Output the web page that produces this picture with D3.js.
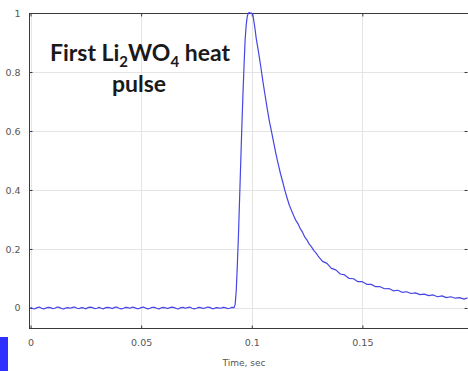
<!DOCTYPE html>
<html>
<head>
<meta charset="utf-8">
<script src="https://cdn.jsdelivr.net/npm/d3@7"></script>
<style>
  body { margin: 0; background: #fff; }
  svg { display: block; }
</style>
</head>
<body>
<div id="chart"></div>
<script>
// pulse samples
var timeSec = [
  0.000, 0.001, 0.002, 0.003, 0.004, 0.005, 0.006, 0.007, 0.008, 0.009,
  0.010, 0.011, 0.012, 0.013, 0.014, 0.015, 0.016, 0.017, 0.018, 0.019,
  0.020, 0.021, 0.022, 0.023, 0.024, 0.025, 0.026, 0.027, 0.028, 0.029,
  0.030, 0.031, 0.032, 0.033, 0.034, 0.035, 0.036, 0.037, 0.038, 0.039,
  0.040, 0.041, 0.042, 0.043, 0.044, 0.045, 0.046, 0.047, 0.048, 0.049,
  0.050, 0.051, 0.052, 0.053, 0.054, 0.055, 0.056, 0.057, 0.058, 0.059,
  0.060, 0.061, 0.062, 0.063, 0.064, 0.065, 0.066, 0.067, 0.068, 0.069,
  0.070, 0.071, 0.072, 0.073, 0.074, 0.075, 0.076, 0.077, 0.078, 0.079,
  0.080, 0.081, 0.082, 0.083, 0.084, 0.085, 0.086, 0.087, 0.088, 0.089,
  0.090, 0.091, 0.092,
  0.0925, 0.093, 0.0935, 0.094, 0.0945, 0.095, 0.0955, 0.096, 0.0965, 0.097,
  0.0975, 0.098, 0.0985, 0.099, 0.0995, 0.100, 0.1005, 0.101, 0.1015, 0.102,
  0.103, 0.104, 0.105, 0.106, 0.107, 0.108, 0.109, 0.110, 0.111, 0.112,
  0.113, 0.114, 0.115, 0.116, 0.117, 0.118, 0.119, 0.120, 0.121, 0.122,
  0.123, 0.124, 0.125, 0.126, 0.127, 0.128, 0.129,
  0.130, 0.132, 0.134, 0.136, 0.138, 0.140, 0.142, 0.144, 0.146, 0.148,
  0.150, 0.152, 0.154, 0.156, 0.158, 0.160, 0.162, 0.164, 0.166, 0.168,
  0.170, 0.172, 0.174, 0.176, 0.178, 0.180, 0.182, 0.184, 0.186, 0.188,
  0.190, 0.192, 0.194, 0.196, 0.1975
];
var signal = [
  0.002, -0.002, -0.003, 0.001, 0.003, -0.001, -0.003, 0.000, 0.002, 0.001,
  -0.002, -0.001, 0.003, 0.002, -0.002, -0.003, 0.000, 0.001, -0.001, 0.002,
  0.003, -0.001, -0.002, 0.001, 0.000, -0.003, 0.001, 0.003, 0.001, -0.002,
  -0.001, 0.002, -0.001, -0.003, 0.001, 0.002, 0.000, -0.002, 0.002, 0.003,
  -0.001, -0.003, -0.001, 0.002, 0.001, -0.001, 0.003, 0.001, -0.002, -0.002,
  0.001, 0.003, 0.000, -0.003, -0.001, 0.002, 0.002, -0.001, -0.003, 0.000,
  0.002, 0.000, -0.002, 0.001, 0.003, 0.001, -0.002, -0.003, 0.001, 0.002,
  -0.001, 0.001, 0.003, -0.001, -0.003, -0.001, 0.002, 0.001, -0.002, 0.000,
  0.003, 0.002, -0.002, -0.002, 0.001, 0.000, -0.001, 0.002, 0.001, -0.002,
  -0.001, 0.002, 0.001,
  0.012, 0.060, 0.150, 0.250, 0.370, 0.490, 0.610, 0.720, 0.820, 0.910,
  0.960, 0.990, 1.000, 1.002, 0.998, 1.000, 0.995, 0.970, 0.945, 0.915,
  0.870, 0.822, 0.770, 0.722, 0.675, 0.632, 0.595, 0.557, 0.520, 0.487,
  0.455, 0.427, 0.398, 0.372, 0.348, 0.330, 0.312, 0.296, 0.284, 0.268,
  0.256, 0.240, 0.230, 0.216, 0.207, 0.195, 0.187,
  0.176, 0.158, 0.151, 0.134, 0.129, 0.115, 0.112, 0.100, 0.099, 0.089,
  0.089, 0.080, 0.080, 0.072, 0.072, 0.065, 0.066, 0.058, 0.060, 0.053,
  0.055, 0.049, 0.051, 0.045, 0.047, 0.042, 0.044, 0.038, 0.041, 0.035,
  0.038, 0.033, 0.035, 0.030, 0.034
];
var xTicks = [0, 0.05, 0.1, 0.15];
var xTickLabels = ["0", "0.05", "0.1", "0.15"];
var yTicks = [0, 0.2, 0.4, 0.6, 0.8, 1];
var yTickLabels = ["0", "0.2", "0.4", "0.6", "0.8", "1"];
var xLabel = "Time, sec";

var width = 468, height = 371;
var plotLeft = 29, plotRight = 467, plotTop = 13, plotBottom = 328;

var svg = d3.select("#chart").append("svg")
    .attr("width", width)
    .attr("height", height);

var x = d3.scaleLinear().domain([-0.0007, 0.1973]).range([plotLeft, plotRight]);
var y = d3.scaleLinear().domain([-0.068, 1]).range([plotBottom, plotTop]);

// grid lines
svg.append("g").selectAll("line").data(xTicks).enter().append("line")
    .attr("x1", function (d) { return Math.round(x(d)) + 0.5 })
    .attr("x2", function (d) { return Math.round(x(d)) + 0.5 })
    .attr("y1", plotTop).attr("y2", plotBottom)
    .attr("stroke", "#e4e4e4");
svg.append("g").selectAll("line").data(yTicks).enter().append("line")
    .attr("y1", function (d) { return Math.round(y(d)) + 0.5 })
    .attr("y2", function (d) { return Math.round(y(d)) + 0.5 })
    .attr("x1", plotLeft).attr("x2", width)
    .attr("stroke", "#e4e4e4");

// axes, ticks pointing into the frame
var xBottom = d3.axisBottom(x).tickValues(xTicks).tickSize(-3).tickFormat(function (d, i) { return xTickLabels[i] });
var xTop = d3.axisTop(x).tickValues(xTicks).tickSize(-3).tickFormat("");
var yLeft = d3.axisLeft(y).tickValues(yTicks).tickSize(-3).tickFormat(function (d, i) { return yTickLabels[i] });
var yRight = d3.axisRight(y).tickValues(yTicks).tickSize(-3).tickFormat("");

var gb = svg.append("g").attr("transform", "translate(0," + (plotBottom + 0.5) + ")").call(xBottom);
var gt = svg.append("g").attr("transform", "translate(0," + (plotTop + 0.5) + ")").call(xTop);
var gl = svg.append("g").attr("transform", "translate(" + (plotLeft + 0.5) + ",0)").call(yLeft);
var gr = svg.append("g").attr("transform", "translate(" + (plotRight + 0.5) + ",0)").call(yRight);
gr.select(".domain").remove();

[gb, gt, gl].forEach(function (g) {
    g.select(".domain").attr("stroke", "#3a3a3a");
});
[gb, gt, gl, gr].forEach(function (g) {
    g.selectAll(".tick line").attr("stroke", "#3a3a3a");
    g.selectAll("text").attr("fill", "#555").style("font-family", "DejaVu Sans").style("font-size", "9.5px");
});
// frame lines run to the page edge
gt.select(".domain").attr("d", "M" + plotLeft + ",0H" + width);
gb.select(".domain").attr("d", "M" + plotLeft + ",0H" + width);
gl.select(".domain").attr("d", "M0," + plotTop + "V" + plotBottom);
gb.selectAll("text").attr("y", 11);
gl.selectAll("text").attr("x", -9);

// the pulse
var line = d3.line()
    .x(function (d, i) { return x(timeSec[i]) })
    .y(function (d) { return y(d) });
svg.append("path")
    .datum(signal)
    .attr("d", line)
    .attr("fill", "none")
    .attr("stroke", "#4646e6")
    .attr("stroke-width", 1.2)
    .attr("stroke-linejoin", "round");

// axis title
svg.append("text")
    .attr("x", 244).attr("y", 366)
    .attr("text-anchor", "middle")
    .attr("fill", "#555")
    .style("font-family", "DejaVu Sans")
    .style("font-size", "9px")
    .text(xLabel);

// slide caption
var cap = svg.append("text")
    .attr("text-anchor", "middle")
    .attr("fill", "#1a1a1a")
    .style("font-family", "Lato")
    .style("font-weight", "bold")
    .style("font-size", "23px");
var l1 = cap.append("tspan").attr("x", 140).attr("y", 61);
l1.append("tspan").text("First Li");
l1.append("tspan").attr("dy", 6).style("font-size", "15px").text("2");
l1.append("tspan").attr("dy", -6).text("WO");
l1.append("tspan").attr("dy", 6).style("font-size", "15px").text("4");
l1.append("tspan").attr("dy", -6).text(" heat");
cap.append("tspan").attr("x", 139).attr("y", 92).text("pulse");

// blue block at lower left
svg.append("rect")
    .attr("x", 0).attr("y", 337)
    .attr("width", 8).attr("height", height - 337)
    .attr("fill", "#2f2fff");
</script>
</body>
</html>
